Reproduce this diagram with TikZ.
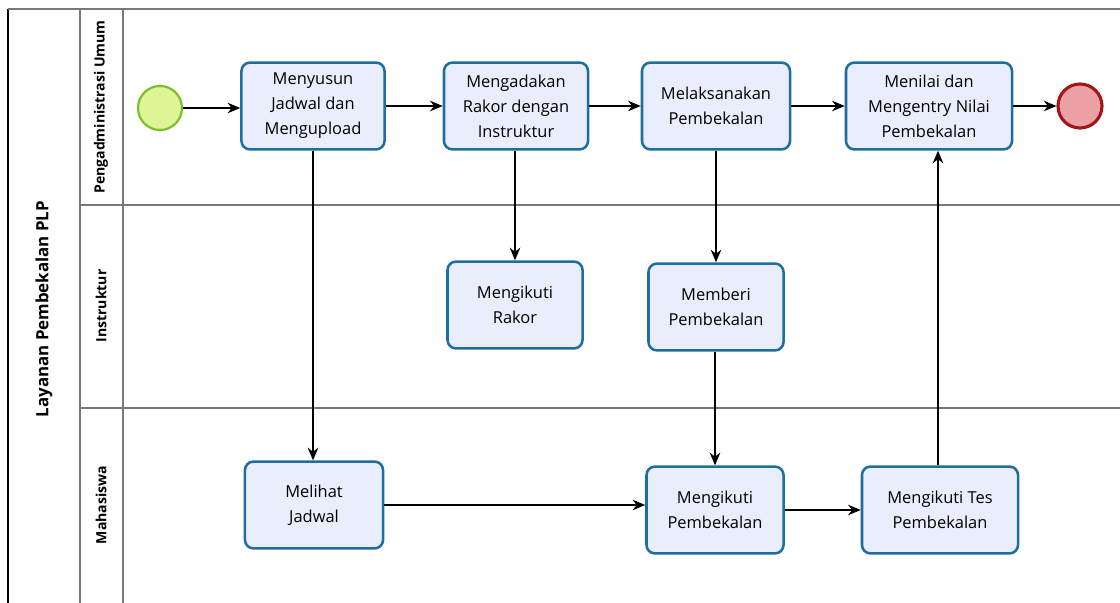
\documentclass[tikz,border=0pt]{standalone}
\usepackage{fontspec}
\setmainfont{Open Sans}
\usetikzlibrary{positioning, arrows.meta}
\definecolor{TaskFill}{RGB}{234,238,252}
\definecolor{TaskLine}{RGB}{30,110,160}
\definecolor{StartFill}{RGB}{220,246,150}
\definecolor{StartLine}{RGB}{120,190,40}
\definecolor{EndFill}{RGB}{235,160,165}
\definecolor{EndLine}{RGB}{165,20,20}
\definecolor{LaneGray}{RGB}{120,120,120}
\tikzset{
  task/.style={draw=TaskLine, line width=1.8pt, fill=TaskFill, rounded corners=6pt,
    minimum height=2.17cm, inner sep=2pt, align=center, font=\fontsize{11.7}{17.8}\selectfont},
  startev/.style={circle, draw=StartLine, fill=StartFill, line width=1.5pt, minimum size=1.1cm, inner sep=0pt},
  endev/.style={circle, draw=EndLine, fill=EndFill, line width=2.2pt, minimum size=1.1cm, inner sep=0pt},
  flow/.style={-{Stealth[length=9pt,width=7.5pt]}, line width=0.9pt, black},
  lanelabel/.style={rotate=90, font=\bfseries\fontsize{10}{12}\selectfont},
  laneline/.style={LaneGray, line width=1pt},
}

\begin{document}
\begin{tikzpicture}[x=0.025cm, y=-0.025cm]
    \useasboundingbox (0,0) rectangle (1120,603);
    % pool and lanes
    \draw[black, line width=1pt] (8,603) -- (8,9);
    \draw[laneline, line width=1.4pt] (8,9) -- (1120,9);
    \draw[laneline] (80,9) -- (80,603);
    \draw[laneline] (123,9) -- (123,603);
    \draw[laneline] (80,205) -- (1120,205);
    \draw[laneline] (80,408) -- (1120,408);
    \node[lanelabel, font=\bfseries\fontsize{12}{14}\selectfont] (pool) at (44,309) {Layanan Pembekalan PLP};
    \node[lanelabel] (lane1) at (101,107) {Pengadministrasi Umum};
    \node[lanelabel] (lane2) at (101,306) {Instruktur};
    \node[lanelabel] (lane3) at (101,505) {Mahasiswa};

    % Pengadministrasi Umum
    \node[startev] (start) at (160,108) {};
    \node[task, minimum width=3.575cm] (susun) at (313,106) {Menyusun\\Jadwal dan\\Mengupload};
    \node[task, minimum width=3.6cm] (rakor) at (516,106) {Mengadakan\\Rakor dengan\\Instruktur};
    \node[task, minimum width=3.7cm] (laksana) at (716,106) {Melaksanakan\\Pembekalan};
    \node[task, minimum width=4.15cm] (nilai) at (929,106) {Menilai dan\\Mengentry Nilai\\Pembekalan};
    \node[endev] (finish) at (1080,106) {};

    % Instruktur
    \node[task, minimum width=3.375cm] (ikutrakor) at (515,305) {Mengikuti\\Rakor};
    \node[task, minimum width=3.375cm] (beri) at (716,307) {Memberi\\Pembekalan};

    % Mahasiswa
    \node[task, minimum width=3.45cm] (lihat) at (314,505) {Melihat\\Jadwal};
    \node[task, minimum width=3.425cm] (ikut) at (715,510) {Mengikuti\\Pembekalan};
    \node[task, minimum width=3.9cm] (tes) at (940,510) {Mengikuti Tes\\Pembekalan};

    % flows
    \draw[flow] (start) -- (start -| susun.west);
    \draw[flow] (susun.east |- rakor) -- (rakor);
    \draw[flow] (rakor) -- (laksana);
    \draw[flow] (laksana) -- (nilai);
    \draw[flow] (nilai) -- (finish);
    \draw[flow] (susun.south) -- (susun.south |- lihat.north);
    \draw[flow] (rakor.south -| ikutrakor) -- (ikutrakor.north);
    \draw[flow] (laksana.south) -- (laksana.south |- beri.north);
    \draw[flow] (beri.south -| ikut) -- (ikut.north);
    \draw[flow] (lihat.east) -- (lihat.east -| ikut.west);
    \draw[flow] (ikut) -- (tes);
    \draw[flow] (tes.north -| 938,0) -- (nilai.south -| 938,0);
\end{tikzpicture}
\end{document}
